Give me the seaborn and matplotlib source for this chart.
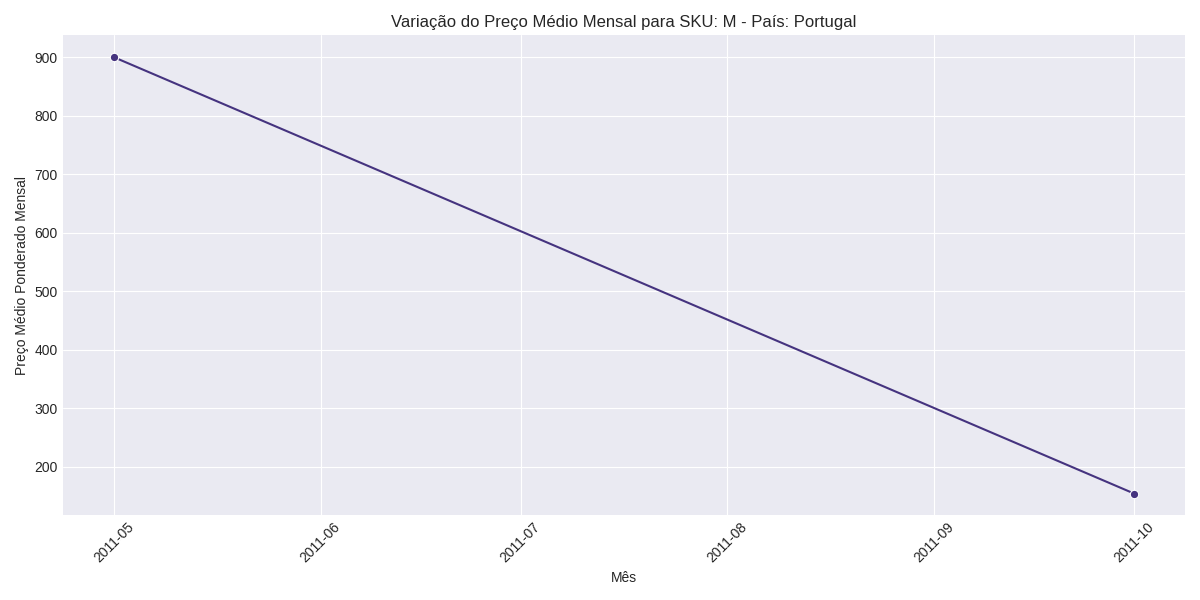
import numpy as np
import matplotlib
matplotlib.use("Agg")
import matplotlib.pyplot as plt
import matplotlib.dates as mdates
import pandas as pd
import seaborn as sns

plt.style.use("seaborn-v0_8-darkgrid")

# dados
meses = ["2011-05-01", "2011-10-01"]
precos = [900.0, 154.5]

df = pd.DataFrame({"Mes": pd.to_datetime(meses), "Preco": precos})

fig, ax = plt.subplots(figsize=(12, 6), dpi=100)
sns.lineplot(data=df, x="Mes", y="Preco", marker="o", color="#45337f", ax=ax)

ax.xaxis.set_major_locator(mdates.MonthLocator())
ax.xaxis.set_major_formatter(mdates.DateFormatter("%Y-%m"))
plt.xticks(rotation=45)

ax.set_title("Variação do Preço Médio Mensal para SKU: M - País: Portugal")
ax.set_xlabel("Mês")
ax.set_ylabel("Preço Médio Ponderado Mensal")

plt.tight_layout()
plt.savefig("out.png")
